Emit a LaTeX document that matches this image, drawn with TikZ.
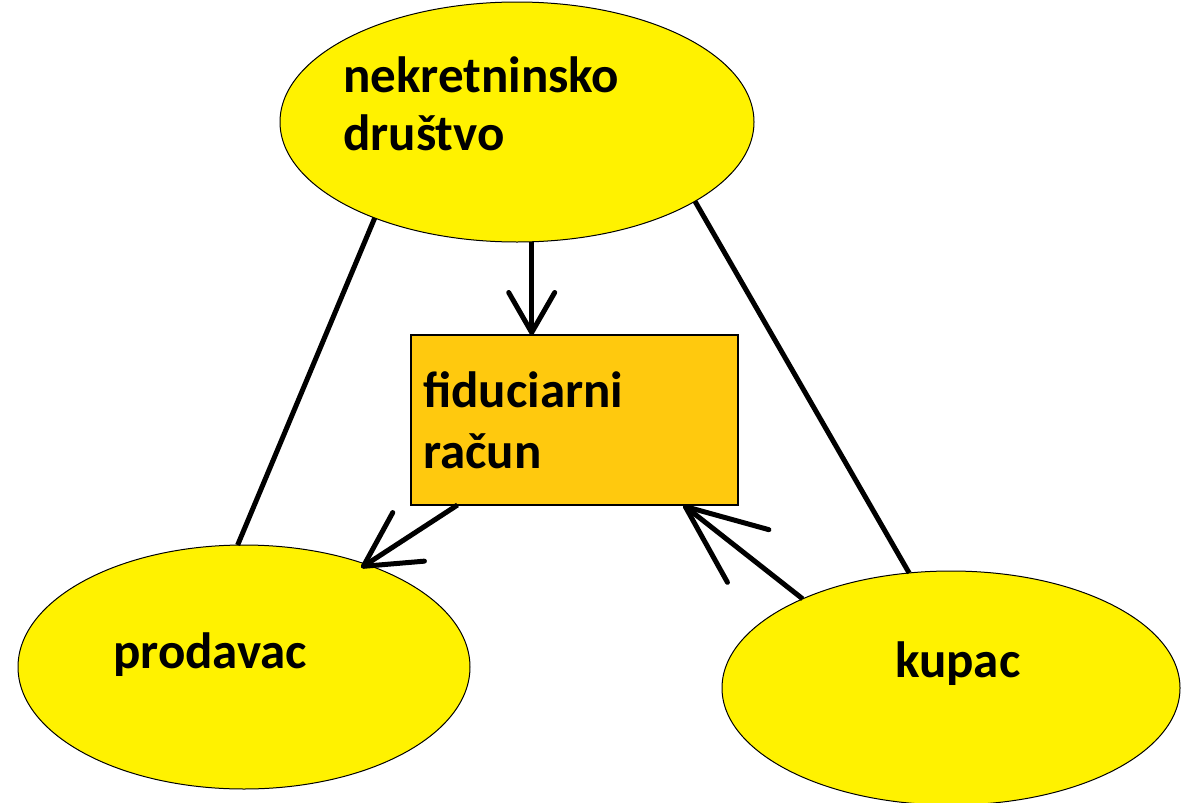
\documentclass[tikz,border=0pt]{standalone}
\usepackage{fontspec}
\setmainfont{Carlito}
\usepackage{tikz}
\usetikzlibrary{arrows.meta, shapes.geometric}
\definecolor{paintyellow}{HTML}{FFF200}
\definecolor{paintgold}{HTML}{FFC90E}

\begin{document}
\begin{tikzpicture}[
  x=1pt, y=-1pt,
  font=\fontsize{51}{60}\selectfont\bfseries,
  party/.style={draw, ellipse, fill=paintyellow, line width=1pt, inner sep=0pt, outer sep=0pt},
  account/.style={draw, rectangle, fill=paintgold, line width=1.5pt, inner sep=0pt, outer sep=0pt,
                  minimum width=327pt, minimum height=170pt},
  txt/.style={anchor=base west, inner sep=0pt},
  link/.style={line width=5pt},
  arr/.style={line width=5pt, -{Straight Barb[length=#1, round]}}
]
\useasboundingbox (0,0) rectangle (1181,803);

\node[party, minimum width=474pt, minimum height=240pt] (agency) at (517,122) {};
\node[party, minimum width=452pt, minimum height=244pt] (seller) at (244,667) {};
\node[party, minimum width=458pt, minimum height=234pt] (buyer) at (951,688) {};
\node[account] (escrow) at (574.5,420) {};

\node[txt] (agencyA) at (343,92) {nekretninsko};
\node[txt] (agencyB) at (343,150) {društvo};
\node[txt] (escrowA) at (423,407) {fiduciarni};
\node[txt] (escrowB) at (423,468) {račun};
\node[txt] (sellerT) at (113,668) {prodavac};
\node[txt] (buyerT) at (895,677) {kupac};

\draw[link] (agency.214) -- (seller.93);
\draw[link] (agency.336) -- (buyer.110);
\draw[arr={40pt, width=46pt}] (agency.277) -- (agency.277 |- escrow.north);
\draw[arr={54pt, width=58pt}, shorten >=-6pt] (escrow.216) -- (seller.40);
\draw[arr={80pt, width=67pt}] (buyer.149) -- (escrow.322);
\end{tikzpicture}
\end{document}
